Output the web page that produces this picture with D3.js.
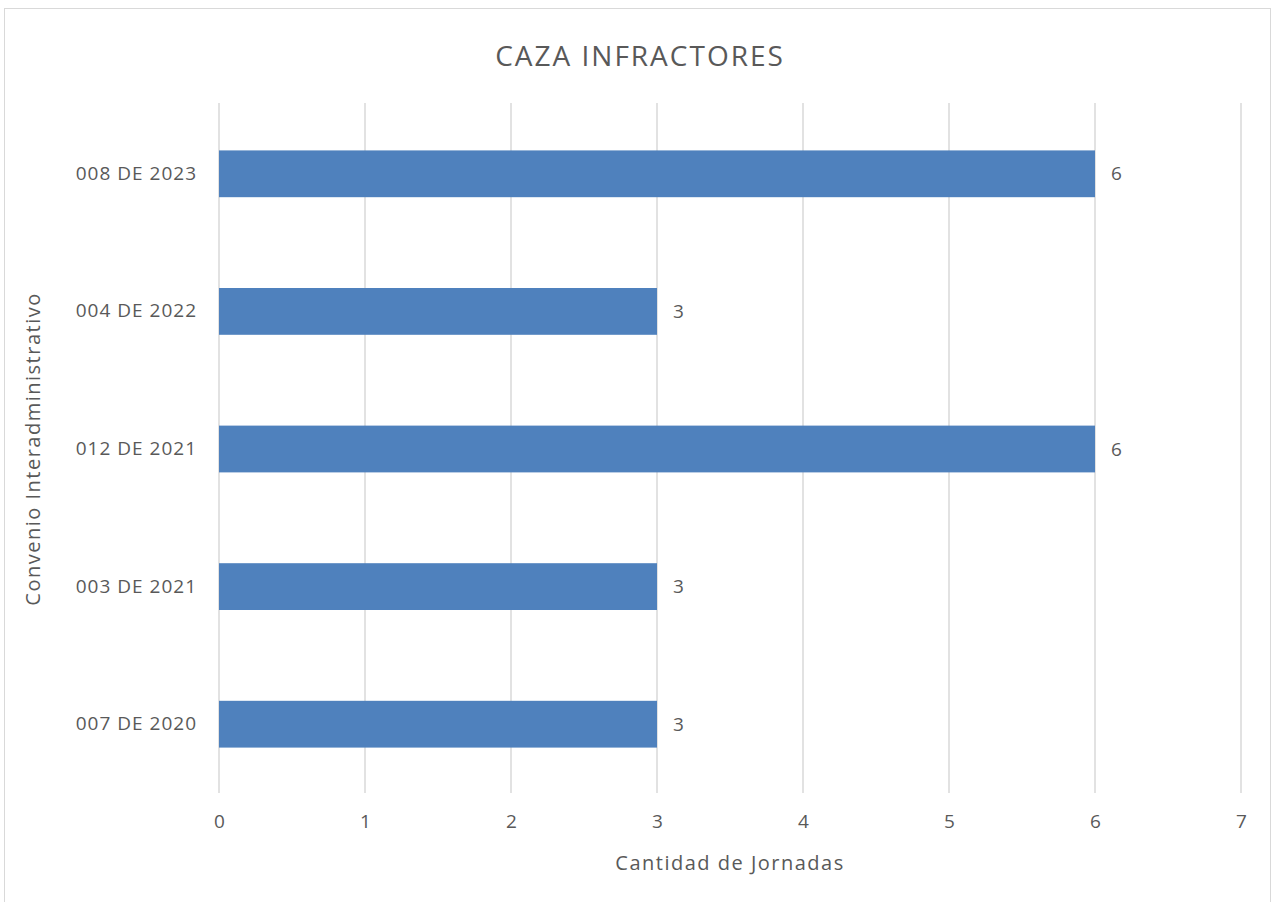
<!DOCTYPE html>
<html>
<head>
<meta charset="utf-8">
<script src="https://cdn.jsdelivr.net/npm/d3@7"></script>
<style>
  body { margin: 0; background: #fff; }
  svg { display: block; font-family: "Open Sans", Lato, sans-serif; }
</style>
</head>
<body>
<svg id="chart" width="1275" height="902"></svg>
<script>
// data, top to bottom
var categories = ['008 DE 2023', '004 DE 2022', '012 DE 2021', '003 DE 2021', '007 DE 2020'];
var jornadas = [6, 3, 6, 3, 3];
var xTicks = [0, 1, 2, 3, 4, 5, 6, 7];

var svg = d3.select('#chart');

// outer frame
svg.append('rect')
  .attr('x', 4.5).attr('y', 8.5)
  .attr('width', 1266).attr('height', 900)
  .attr('fill', 'none')
  .attr('stroke', '#d9d9d9');

var margin = {left: 219, right: 34, top: 105, bottom: 109};
var w = 1275 - margin.left - margin.right,
    h = 902 - margin.top - margin.bottom;

var g = svg.append('g').attr('transform', 'translate(' + margin.left + ',' + margin.top + ')');

var x = d3.scaleLinear().domain([0, 7]).range([0, w]);
var y = d3.scaleBand().domain(categories).range([0, h]).paddingInner(0.66).paddingOuter(0.33);

// vertical gridlines
g.selectAll('.grid')
  .data(xTicks)
  .enter().append('line')
    .attr('class', 'grid')
    .attr('x1', function(d) { return x(d); })
    .attr('x2', function(d) { return x(d); })
    .attr('y1', -2).attr('y2', h)
    .attr('stroke', '#d9d9d9')
    .attr('stroke-width', 1.5);

// bars
g.selectAll('.bar')
  .data(jornadas)
  .enter().append('rect')
    .attr('class', 'bar')
    .attr('x', x(0))
    .attr('y', function(d, i) { return y(categories[i]); })
    .attr('width', function(d) { return x(d) - x(0); })
    .attr('height', y.bandwidth())
    .attr('fill', '#4f81bd');

// value labels
g.selectAll('.val')
  .data(jornadas)
  .enter().append('text')
    .attr('class', 'val')
    .attr('x', function(d) { return x(d) + 16; })
    .attr('y', function(d, i) { return y(categories[i]) + y.bandwidth() / 2; })
    .attr('dy', '0.35em')
    .attr('font-size', 19)
    .attr('fill', '#595959')
    .text(function(d) { return d; });

// x axis
var xAxis = g.append('g')
  .attr('transform', 'translate(0,' + h + ')')
  .call(d3.axisBottom(x).tickValues(xTicks).tickFormat(d3.format('d')).tickSize(0).tickPadding(22));
xAxis.select('.domain').remove();
xAxis.selectAll('text').attr('font-size', 19).attr('fill', '#595959')
  .attr('font-family', '"Open Sans", Lato, sans-serif');

// y axis
var yAxis = g.append('g')
  .call(d3.axisLeft(y).tickSize(0).tickPadding(22));
yAxis.select('.domain').remove();
yAxis.selectAll('text').attr('font-size', 19).attr('fill', '#595959')
  .attr('letter-spacing', 1)
  .attr('font-family', '"Open Sans", Lato, sans-serif');

// titles
svg.append('text')
  .attr('x', 640).attr('y', 66)
  .attr('text-anchor', 'middle')
  .attr('font-size', 28)
  .attr('letter-spacing', 2)
  .attr('fill', '#595959')
  .text('CAZA INFRACTORES');

svg.append('text')
  .attr('x', margin.left + w / 2).attr('y', 870)
  .attr('text-anchor', 'middle')
  .attr('font-size', 20)
  .attr('letter-spacing', 1.5)
  .attr('fill', '#595959')
  .text('Cantidad de Jornadas');

svg.append('text')
  .attr('transform', 'translate(40,' + (margin.top + h / 2) + ') rotate(-90)')
  .attr('text-anchor', 'middle')
  .attr('font-size', 20)
  .attr('letter-spacing', 1.5)
  .attr('fill', '#595959')
  .text('Convenio Interadministrativo');
</script>
</body>
</html>
